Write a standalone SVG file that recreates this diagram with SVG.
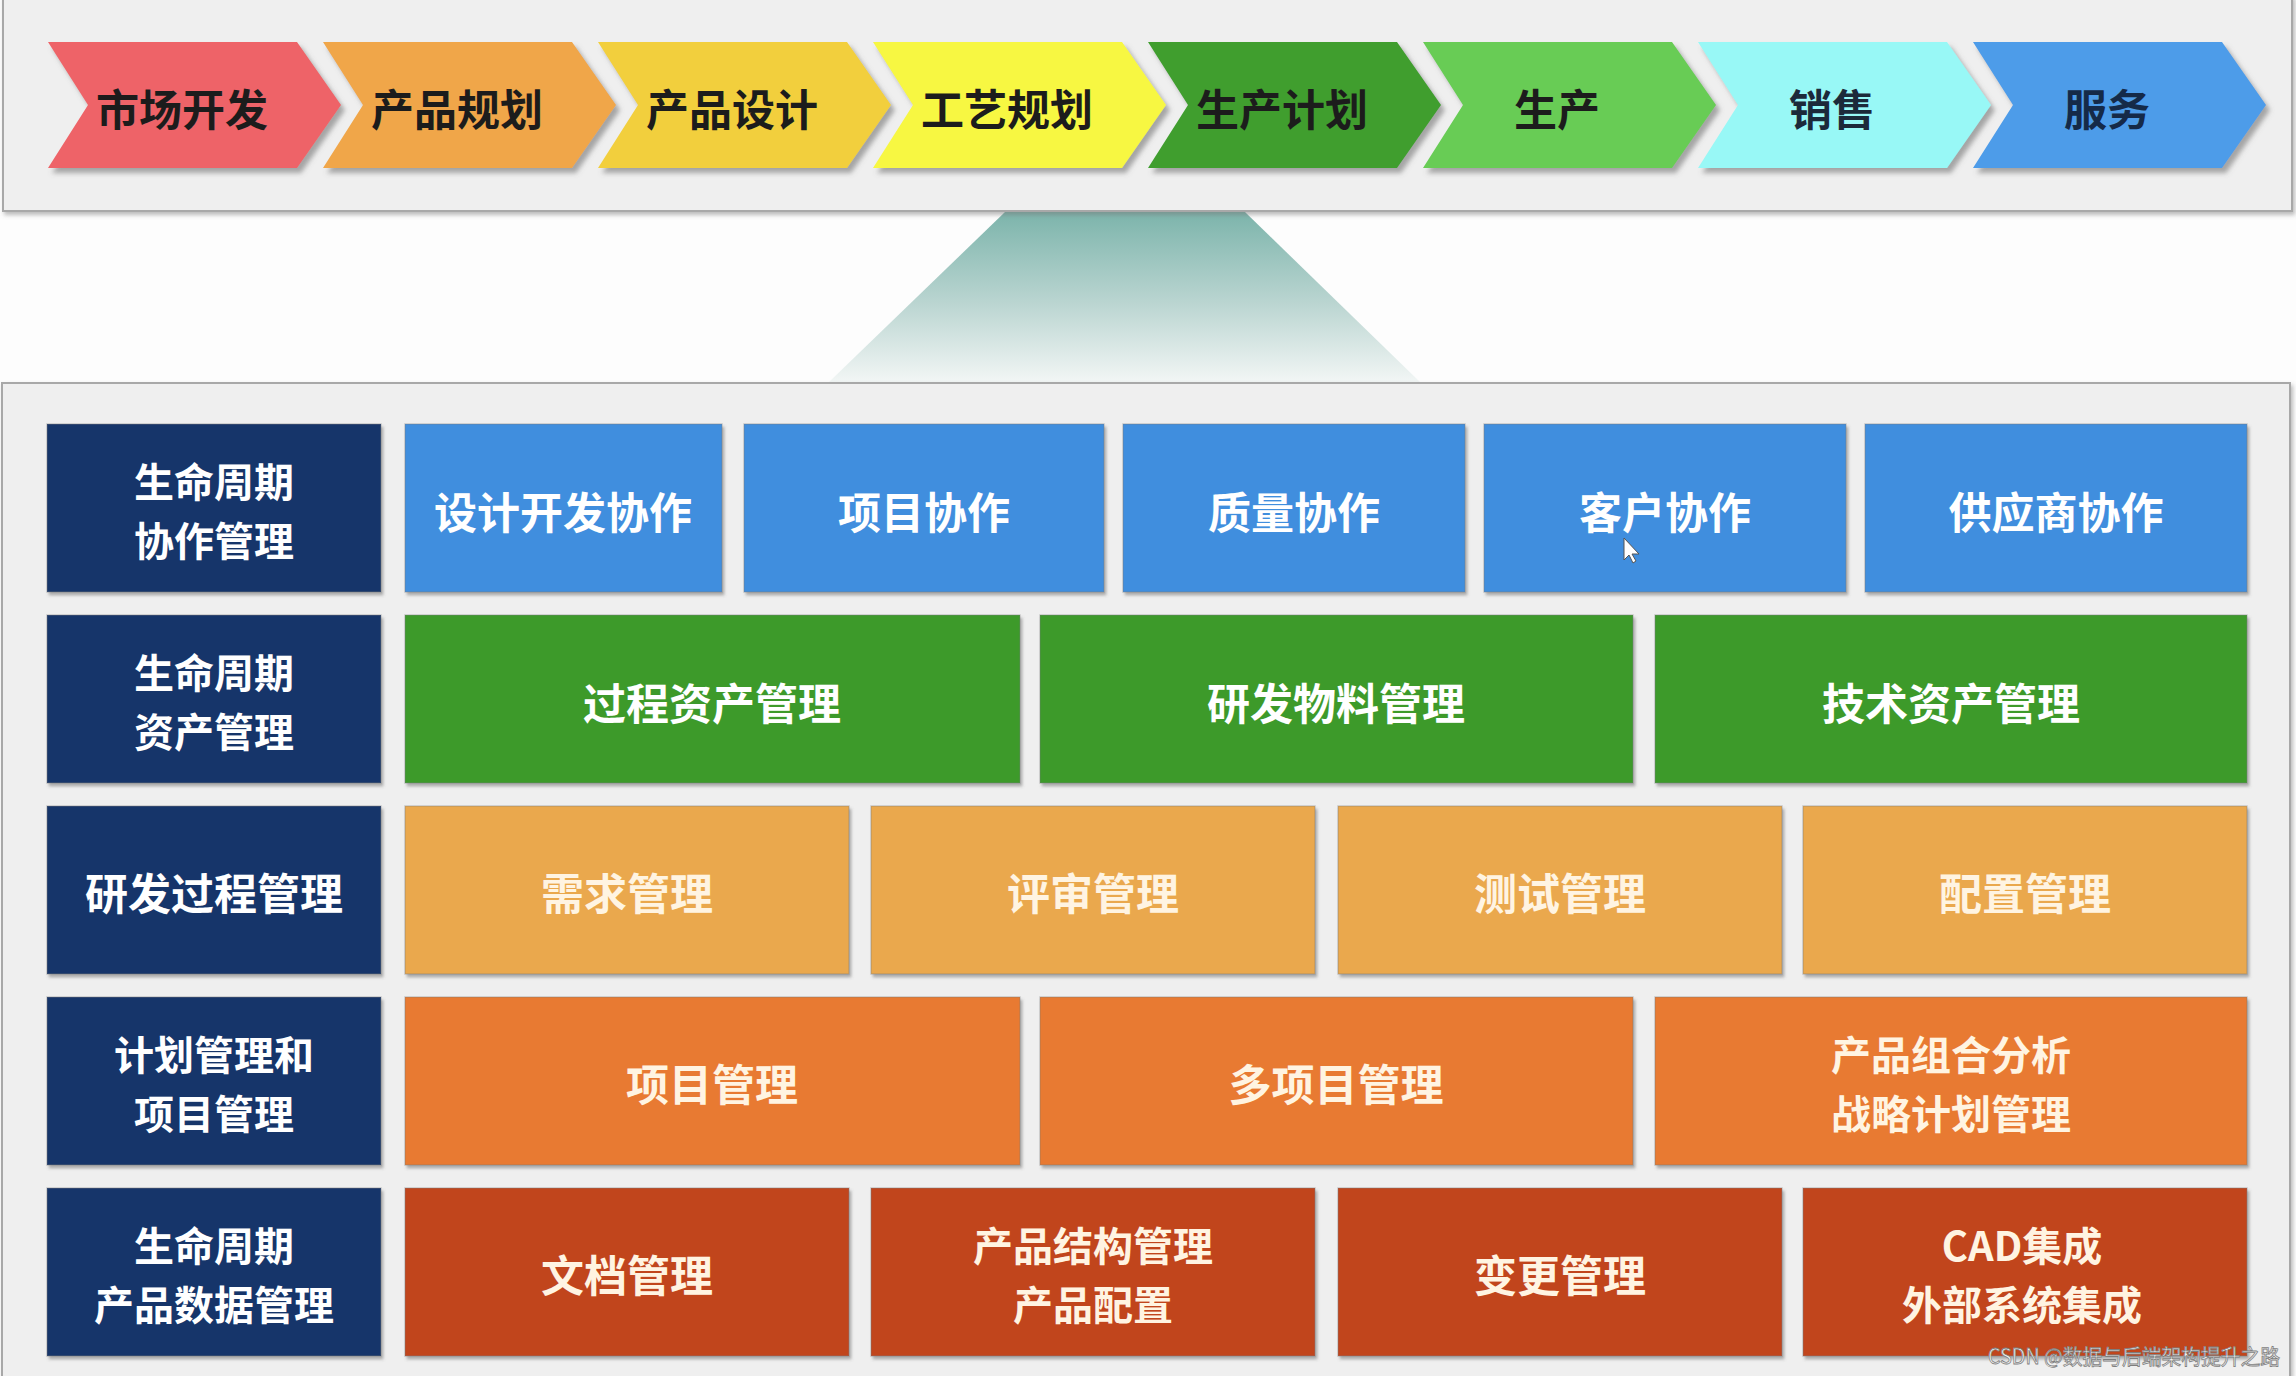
<svg xmlns="http://www.w3.org/2000/svg" width="2296" height="1376" viewBox="0 0 2296 1376">
<defs>
<style>
.t{font-family:"Noto Sans CJK SC","Noto Sans",sans-serif;font-size:43px;font-weight:bold;text-anchor:middle;dominant-baseline:central}
.t2{font-size:40px}
.dk{fill:#1c1c1c}
.wt{fill:#ffffff}
.cr{fill:#fff4e2}
.nav{fill:#16366a}
.blu{fill:#418ede}
.grn{fill:#3c9a2b}
.lor{fill:#eaa84e}
.org{fill:#e87a30}
.red{fill:#c1441f}
.cell{filter:url(#sh);stroke:#7a7a7a;stroke-opacity:0.35;stroke-width:1.5}
.chev{filter:url(#csh)}
.panel{fill:#efefef;stroke:#a8a8a8;stroke-width:2;filter:url(#psh)}
</style>
<filter id="sh" x="-5%" y="-5%" width="110%" height="115%"><feDropShadow dx="2" dy="3" stdDeviation="1.5" flood-color="#555" flood-opacity="0.45"/></filter>
<filter id="csh" x="-5%" y="-5%" width="115%" height="120%"><feDropShadow dx="4" dy="5" stdDeviation="2.5" flood-color="#666" flood-opacity="0.55"/></filter>
<filter id="psh" x="-2%" y="-2%" width="104%" height="106%"><feDropShadow dx="2" dy="3" stdDeviation="2" flood-color="#777" flood-opacity="0.5"/></filter>
<linearGradient id="fun" x1="0" y1="0" x2="0" y2="1">
<stop offset="0" stop-color="#7cb4ab"/>
<stop offset="0.55" stop-color="#bcd6d2"/>
<stop offset="1" stop-color="#f2f6f5"/>
</linearGradient>
</defs>
<rect x="0" y="0" width="2296" height="1376" fill="#fdfdfd"/>

<!-- funnel -->
<polygon id="funnel" points="1005,212 1245,212 1420,382 829,382" fill="url(#fun)"/>

<!-- top panel -->
<rect id="topPanel" class="panel" x="3" y="-4" width="2289" height="215"/>

<!-- chevrons -->
<g id="stage-1"><polygon class="chev" fill="#ee6468" points="48,42 297,42 341,105 297,168 48,168 88,105"/><text class="t dk" x="182" y="107">市场开发</text></g>
<g id="stage-2"><polygon class="chev" fill="#f0a64a" points="323,42 572,42 616,105 572,168 323,168 363,105"/><text class="t dk" x="457" y="107">产品规划</text></g>
<g id="stage-3"><polygon class="chev" fill="#f2cf3e" points="598,42 847,42 891,105 847,168 598,168 638,105"/><text class="t dk" x="732" y="107">产品设计</text></g>
<g id="stage-4"><polygon class="chev" fill="#f7f743" points="873,42 1122,42 1166,105 1122,168 873,168 913,105"/><text class="t dk" x="1007" y="107">工艺规划</text></g>
<g id="stage-5"><polygon class="chev" fill="#409e2f" points="1148,42 1397,42 1441,105 1397,168 1148,168 1188,105"/><text class="t dk" x="1282" y="107">生产计划</text></g>
<g id="stage-6"><polygon class="chev" fill="#68cc55" points="1423,42 1672,42 1716,105 1672,168 1423,168 1463,105"/><text class="t dk" x="1557" y="107">生产</text></g>
<g id="stage-7"><polygon class="chev" fill="#98f8f6" points="1698,42 1947,42 1991,105 1947,168 1698,168 1738,105"/><text class="t" fill="#1c2a3a" x="1832" y="107">销售</text></g>
<g id="stage-8"><polygon class="chev" fill="#4e9ce9" points="1973,42 2222,42 2266,105 2222,168 1973,168 2013,105"/><text class="t" fill="#152a48" x="2107" y="107">服务</text></g>

<!-- lower panel -->
<rect id="lowerPanel" class="panel" x="2" y="383" width="2288" height="1000"/>

<!-- row 1 -->
<g id="row1-label"><rect class="cell nav" x="47" y="424" width="334" height="168"/><text class="t t2 wt"><tspan x="214" y="480">生命周期</tspan><tspan x="214" y="539">协作管理</tspan></text></g>
<g id="r1c1"><rect class="cell blu" x="405" y="424" width="317" height="168"/><text class="t wt" x="563" y="510">设计开发协作</text></g>
<g id="r1c2"><rect class="cell blu" x="744" y="424" width="360" height="168"/><text class="t wt" x="924" y="510">项目协作</text></g>
<g id="r1c3"><rect class="cell blu" x="1123" y="424" width="342" height="168"/><text class="t wt" x="1294" y="510">质量协作</text></g>
<g id="r1c4"><rect class="cell blu" x="1484" y="424" width="362" height="168"/><text class="t wt" x="1665" y="510">客户协作</text><polygon fill="#ffffff" stroke="#555" stroke-width="1" points="1624,538 1624,560 1629,555 1633,563 1636,561 1632,554 1639,554"/></g>
<g id="r1c5"><rect class="cell blu" x="1865" y="424" width="382" height="168"/><text class="t wt" x="2056" y="510">供应商协作</text></g>

<!-- row 2 -->
<g id="row2-label"><rect class="cell nav" x="47" y="615" width="334" height="168"/><text class="t t2 wt"><tspan x="214" y="671">生命周期</tspan><tspan x="214" y="730">资产管理</tspan></text></g>
<g id="r2c1"><rect class="cell grn" x="405" y="615" width="615" height="168"/><text class="t wt" x="712" y="701">过程资产管理</text></g>
<g id="r2c2"><rect class="cell grn" x="1040" y="615" width="593" height="168"/><text class="t wt" x="1336" y="701">研发物料管理</text></g>
<g id="r2c3"><rect class="cell grn" x="1655" y="615" width="592" height="168"/><text class="t wt" x="1951" y="701">技术资产管理</text></g>

<!-- row 3 -->
<g id="row3-label"><rect class="cell nav" x="47" y="806" width="334" height="168"/><text class="t wt" x="214" y="891">研发过程管理</text></g>
<g id="r3c1"><rect class="cell lor" x="405" y="806" width="444" height="168"/><text class="t cr" x="627" y="891">需求管理</text></g>
<g id="r3c2"><rect class="cell lor" x="871" y="806" width="444" height="168"/><text class="t cr" x="1093" y="891">评审管理</text></g>
<g id="r3c3"><rect class="cell lor" x="1338" y="806" width="444" height="168"/><text class="t cr" x="1560" y="891">测试管理</text></g>
<g id="r3c4"><rect class="cell lor" x="1803" y="806" width="444" height="168"/><text class="t cr" x="2025" y="891">配置管理</text></g>

<!-- row 4 -->
<g id="row4-label"><rect class="cell nav" x="47" y="997" width="334" height="168"/><text class="t t2 wt"><tspan x="214" y="1053">计划管理和</tspan><tspan x="214" y="1112">项目管理</tspan></text></g>
<g id="r4c1"><rect class="cell org" x="405" y="997" width="615" height="168"/><text class="t cr" x="712" y="1082">项目管理</text></g>
<g id="r4c2"><rect class="cell org" x="1040" y="997" width="593" height="168"/><text class="t cr" x="1336" y="1082">多项目管理</text></g>
<g id="r4c3"><rect class="cell org" x="1655" y="997" width="592" height="168"/><text class="t t2 cr"><tspan x="1951" y="1053">产品组合分析</tspan><tspan x="1951" y="1112">战略计划管理</tspan></text></g>

<!-- row 5 -->
<g id="row5-label"><rect class="cell nav" x="47" y="1188" width="334" height="168"/><text class="t t2 wt"><tspan x="214" y="1244">生命周期</tspan><tspan x="214" y="1303">产品数据管理</tspan></text></g>
<g id="r5c1"><rect class="cell red" x="405" y="1188" width="444" height="168"/><text class="t cr" x="627" y="1273">文档管理</text></g>
<g id="r5c2"><rect class="cell red" x="871" y="1188" width="444" height="168"/><text class="t t2 cr"><tspan x="1093" y="1244">产品结构管理</tspan><tspan x="1093" y="1303">产品配置</tspan></text></g>
<g id="r5c3"><rect class="cell red" x="1338" y="1188" width="444" height="168"/><text class="t cr" x="1560" y="1273">变更管理</text></g>
<g id="r5c4"><rect class="cell red" x="1803" y="1188" width="444" height="168"/><text class="t t2 cr"><tspan x="2022" y="1244">CAD集成</tspan><tspan x="2022" y="1303">外部系统集成</tspan></text></g>

<g id="connectors"></g>

<text x="1988" y="1364" textLength="292" lengthAdjust="spacingAndGlyphs" font-family="'Noto Sans CJK SC','Noto Sans',sans-serif" font-size="21" fill="#f4f4f4" stroke="#7e7e7e" stroke-width="0.8">CSDN @数据与后端架构提升之路</text>
</svg>
